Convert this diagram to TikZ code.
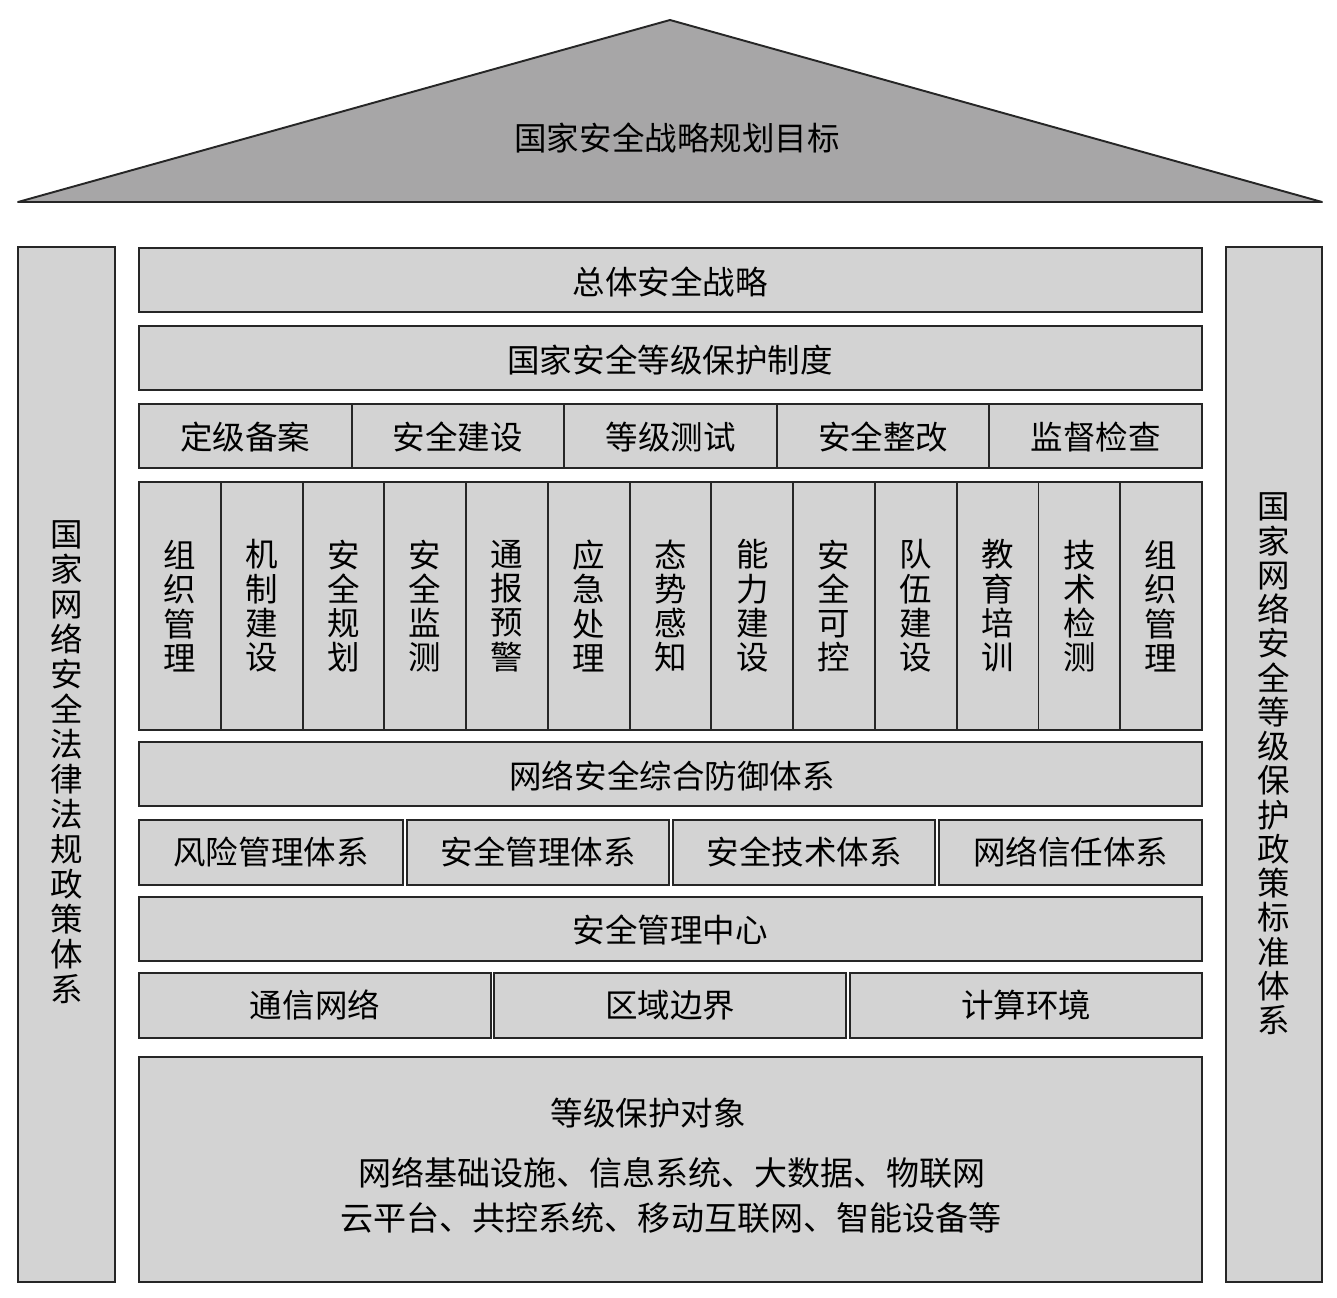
\documentclass[tikz,border=0pt]{standalone}
\usepackage{fontspec}
\setmainfont{Noto Sans CJK SC}

\definecolor{roofgray}{HTML}{A7A6A7}
\definecolor{boxgray}{HTML}{D3D3D3}

\tikzset{
	box/.style = {draw = black!85, fill = boxgray, line width = 1.1pt},
	txt/.style = {font = \fontsize{18.5}{19}\selectfont, inner sep = 0pt},
	vtxt/.style = {font = \fontsize{18.5}{19.5}\selectfont, align = center, inner sep = 0pt}
}

\begin{document}
\begin{tikzpicture}[x = 0.02cm, y = -0.02cm]
	 \useasboundingbox (0, 0) rectangle (1337, 1297);
	 
	 % roof
	 \draw[draw = black!85, fill = roofgray, line width = 1.1pt, line join = round] (18, 202) -- (670, 20) -- (1322, 202) -- cycle;
	 \node[txt] (goal) at (677, 138) {国家安全战略规划目标};
	 
	 % pillars
	 \draw[box] (18, 247) rectangle (115, 1282);
	 \node[vtxt, font = \fontsize{18.5}{19.9}\selectfont] (law) at (67, 762) {国\\家\\网\\络\\安\\全\\法\\律\\法\\规\\政\\策\\体\\系};
	 \draw[box] (1226, 247) rectangle (1322, 1282);
	 \node[vtxt] (std) at (1274, 764) {国\\家\\网\\络\\安\\全\\等\\级\\保\\护\\政\\策\\标\\准\\体\\系};
	 
	 % rows
	 \draw[box] (139, 248) rectangle (1202, 312);
	 \node[txt] (overall) at (670, 282) {总体安全战略};
	 \draw[box] (139, 326) rectangle (1202, 390);
	 \node[txt] (system) at (670, 360) {国家安全等级保护制度};
	 
	 \foreach \t [count = \i from 0] in {定级备案, 安全建设, 等级测试, 安全整改, 监督检查}
	 {
	 	\draw[box] (139 + \i * 212.6, 404) rectangle (139 + \i * 212.6 + 212.6, 468);
	 	\node[txt] (step\i) at (139 + \i * 212.6 + 106.3, 437) {\t};
	 }
	 
	 \foreach \t [count = \i from 0] in {{组\\织\\管\\理}, {机\\制\\建\\设}, {安\\全\\规\\划}, {安\\全\\监\\测}, {通\\报\\预\\警}, {应\\急\\处\\理}, {态\\势\\感\\知}, {能\\力\\建\\设}, {安\\全\\可\\控}, {队\\伍\\建\\设}, {教\\育\\培\\训}, {技\\术\\检\\测}, {组\\织\\管\\理}}
	 {
	 	\draw[box] (139 + \i * 81.77, 482) rectangle (139 + \i * 81.77 + 81.77, 730);
	 	\node[vtxt] (task\i) at (139 + \i * 81.77 + 40.9, 606) {\t};
	 }
	 
	 \draw[box] (139, 742) rectangle (1202, 806);
	 \node[txt] (defense) at (672, 776) {网络安全综合防御体系};
	 
	 \foreach \t/\a/\b [count = \i] in {风险管理体系/139/403, 安全管理体系/407/669, 安全技术体系/673/935, 网络信任体系/939/1202}
	 {
	 	\draw[box] (\a, 820) rectangle (\b, 885);
	 	\node[txt] (sub\i) at ({(\a + \b) / 2}, 852) {\t};
	 }
	 
	 \draw[box] (139, 897) rectangle (1202, 961);
	 \node[txt] (center) at (670, 930) {安全管理中心};
	 
	 \foreach \t/\a/\b [count = \i] in {通信网络/139/491, 区域边界/494/846, 计算环境/850/1202}
	 {
	 	\draw[box] (\a, 973) rectangle (\b, 1038);
	 	\node[txt] (env\i) at ({(\a + \b) / 2}, 1005) {\t};
	 }
	 
	 % protected objects
	 \draw[box] (139, 1057) rectangle (1202, 1282);
	 \node[txt] (obj) at (648, 1113) {等级保护对象};
	 \node[txt, font = \fontsize{18.8}{19}\selectfont] (objA) at (672, 1173) {网络基础设施、信息系统、大数据、物联网};
	 \node[txt, font = \fontsize{18.8}{19}\selectfont] (objB) at (671, 1218) {云平台、共控系统、移动互联网、智能设备等};
\end{tikzpicture}
\end{document}
